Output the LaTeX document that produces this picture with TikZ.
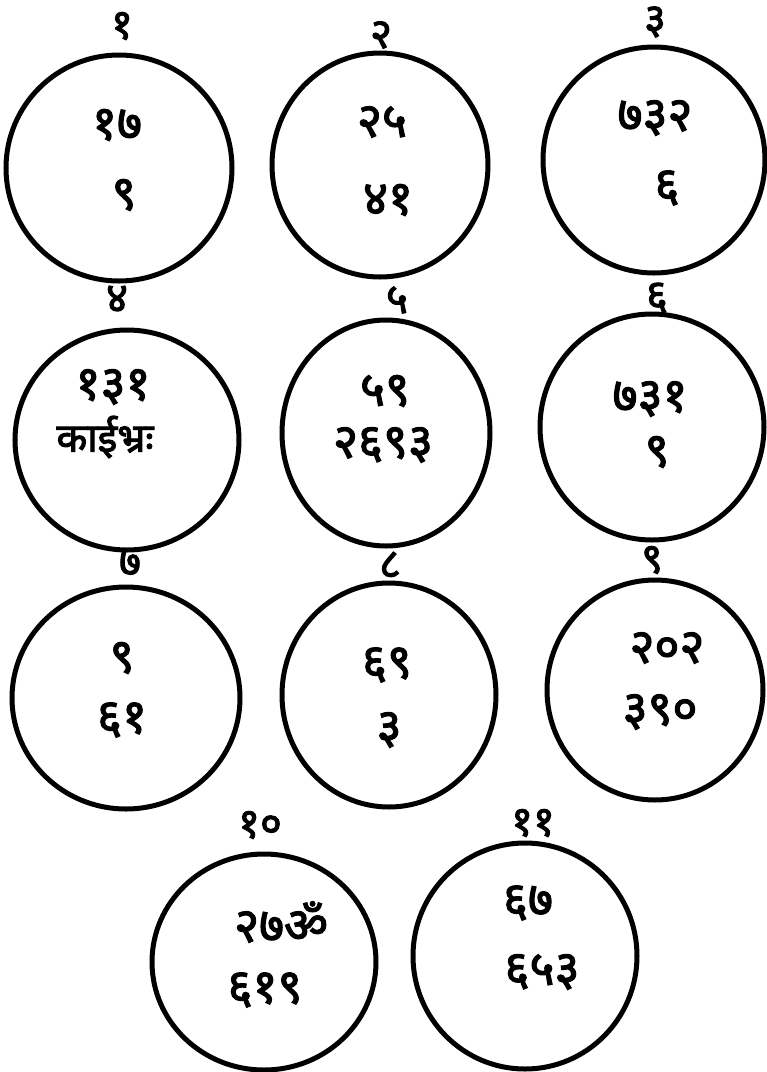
\documentclass[tikz,border=0pt]{standalone}
\usepackage{fontspec}
\usetikzlibrary{shapes.geometric}
\newfontfamily\deva[Script=Devanagari,FakeBold=2.5]{Noto Sans}
\tikzset{
  ring/.style={draw, ellipse, line width=5pt, inner sep=0pt},
  numlabel/.style={font=\deva\fontsize{42}{44}\selectfont, inner sep=0pt},
  inner/.style={font=\deva\fontsize{48}{50}\selectfont, inner sep=0pt},
}
\begin{document}
\begin{tikzpicture}[x=1pt,y=-1pt]
\useasboundingbox (0,0) rectangle (767,1072);
% row 1
\node[ring, minimum width=226pt, minimum height=226pt] (c1) at (119,168) {};
\node[ring, minimum width=216pt, minimum height=224pt] (c2) at (380,165) {};
\node[ring, minimum width=222pt, minimum height=226pt] (c3) at (654,160) {};
\node[numlabel] (l1) at (122,26) {१};
\node[numlabel] (l2) at (381,35) {२};
\node[numlabel] (l3) at (655,22) {३};
\node[inner] (t1a) at (117,125) {१७};
\node[inner] (t1b) at (124,195) {९};
\node[inner] (t2a) at (382,122) {२५};
\node[inner] (t2b) at (388,200) {४१};
\node[inner] (t3a) at (655,118) {७३२};
\node[inner] (t3b) at (667,188) {६};
% row 2
\node[ring, minimum width=224pt, minimum height=220pt] (c4) at (127,440) {};
\node[ring, minimum width=208pt, minimum height=226pt] (c5) at (386,433) {};
\node[ring, minimum width=224pt, minimum height=226pt] (c6) at (652,427) {};
\node[numlabel] (l4) at (117,299) {४};
\node[numlabel] (l5) at (397,300) {५};
\node[numlabel] (l6) at (657,298) {६};
\node[inner] (t4a) at (113,387) {१३१};
\node[inner, font=\deva\fontsize{40}{42}\selectfont] (t4b) at (105,437) {काईभ्रः};
\node[inner] (t5a) at (385,391) {५९};
\node[inner] (t5b) at (383,445) {२६९३};
\node[inner] (t6a) at (650,399) {७३१};
\node[inner] (t6b) at (657,452) {९};
% row 3
\node[ring, minimum width=228pt, minimum height=222pt] (c7) at (126,698) {};
\node[ring, minimum width=214pt, minimum height=224pt] (c8) at (389,695) {};
\node[ring, minimum width=216pt, minimum height=220pt] (c9) at (655,690) {};
\node[numlabel] (l7) at (130,563) {७};
\node[numlabel] (l8) at (390,565) {८};
\node[numlabel] (l9) at (652,560) {९};
\node[inner] (t7a) at (122,658) {९};
\node[inner] (t7b) at (122,720) {६१};
\node[inner] (t8a) at (387,665) {६९};
\node[inner] (t8b) at (389,730) {३};
\node[inner] (t9a) at (667,648) {२०२};
\node[inner] (t9b) at (660,712) {३९०};
% row 4
\node[ring, minimum width=224pt, minimum height=216pt] (c10) at (264,962) {};
\node[ring, minimum width=224pt, minimum height=226pt] (c11) at (525,956) {};
\node[numlabel] (l10) at (260,825) {१०};
\node[numlabel] (l11) at (533,823) {११};
\node[inner] (t10a) at (281,922) {२७ॐ};
\node[inner] (t10b) at (265,990) {६१९};
\node[inner] (t11a) at (528,903) {६७};
\node[inner] (t11b) at (542,972) {६५३};
\end{tikzpicture}
\end{document}
